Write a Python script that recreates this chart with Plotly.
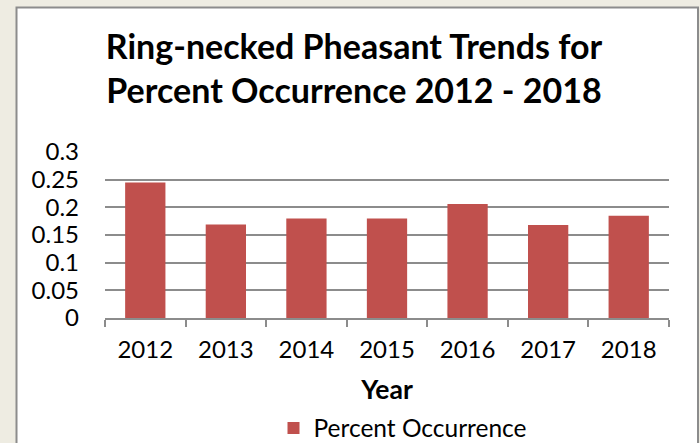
import plotly.graph_objects as go

years = ["2012", "2013", "2014", "2015", "2016", "2017", "2018"]
occurrence = [0.245, 0.169, 0.180, 0.180, 0.206, 0.168, 0.185]
y_ticks = [0, 0.05, 0.1, 0.15, 0.2, 0.25, 0.3]
y_tick_labels = ["0", "0.05", "0.1", "0.15", "0.2", "0.25", "0.3"]

FONT = "Lato"

fig = go.Figure()
fig.add_trace(go.Bar(
    x=years, y=occurrence, name="Percent Occurrence",
    marker=dict(color="#C0504D", line=dict(width=0)),
    width=0.5,
))

W, H = 700, 443
L, R, T, B = 105, 31, 152, 125
pw, ph = W - L - R, H - T - B

def px_x(x):
    return (x - L) / pw

def px_y(y):
    return (H - B - y) / ph

fig.update_layout(
    width=W, height=H,
    margin=dict(l=L, r=R, t=T, b=B, pad=0, autoexpand=False),
    paper_bgcolor="#EEECE2",
    plot_bgcolor="white",
    font=dict(family=FONT, color="black", size=24),
    title=dict(
        text="<b>Ring-necked Pheasant Trends for<br>Percent Occurrence 2012 - 2018</b>",
        xref="container", yref="container",
        x=354 / W, xanchor="center",
        y=1 - 59 / H, yanchor="middle",
        font=dict(size=34, family=FONT),
    ),
    showlegend=True,
    legend=dict(
        orientation="h", xref="container", yref="container",
        x=403 / W, xanchor="center",
        y=1 - 428 / H, yanchor="middle",
        font=dict(size=24.5, family=FONT),
        bgcolor="rgba(0,0,0,0)",
        itemwidth=30,
    ),
    bargap=0.5,
    shapes=[dict(
        type="rect", xref="paper", yref="paper", layer="below",
        x0=px_x(16.5), x1=px_x(698), y0=px_y(470), y1=px_y(7.5),
        fillcolor="white", line=dict(color="#8C8C8C", width=2),
    )],
)

fig.update_xaxes(
    type="category", automargin=False,
    showline=True, linecolor="#8C8C8C", linewidth=1.5,
    ticks="outside", ticklen=7, tickcolor="#8C8C8C", tickwidth=1.5,
    tickson="boundaries", ticklabelstandoff=9,
    showgrid=False,
    tickfont=dict(size=24, family=FONT),
    title=dict(text="<b>Year</b>", font=dict(size=26.5, family=FONT), standoff=21),
)
fig.update_yaxes(
    range=[0, 0.3], automargin=False,
    tickvals=y_ticks, ticktext=y_tick_labels,
    showgrid=True, gridcolor="#8C8C8C", gridwidth=1.5,
    showline=False, zeroline=False,
    ticks="", ticklabelstandoff=25,
    tickfont=dict(size=24, family=FONT),
)

fig.write_html(
    "out.html",
    config={"displayModeBar": False},
    post_script="document.body.style.margin='0';document.body.style.overflow='hidden';",
)
